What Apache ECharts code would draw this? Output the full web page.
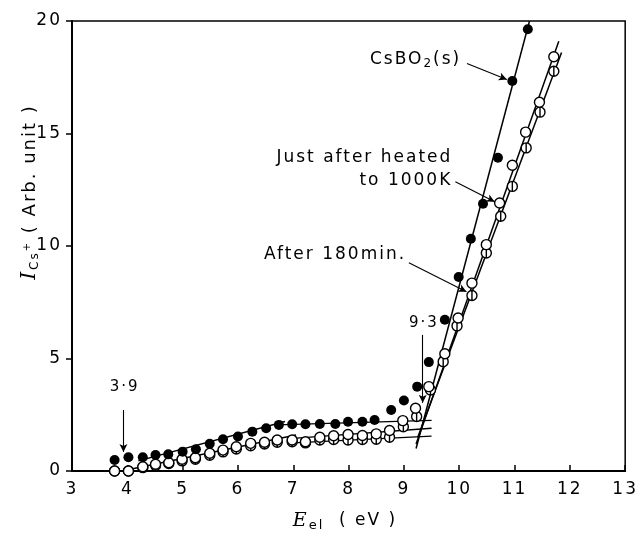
<!DOCTYPE html>
<html><head><meta charset="utf-8">
<script src="https://cdn.jsdelivr.net/npm/echarts@6/dist/echarts.min.js"></script>
<style>html,body{margin:0;padding:0;background:#fff}#c{width:641px;height:537px}</style>
</head><body><div id="c"></div>
<script>
// ---- data ----
const xTickValues = [3,4,5,6,7,8,9,10,11,12,13];
const yTickValues = [0,5,10,15,20];

// CsBO2(s) : filled circles
const csE = [3.77,4.02,4.28,4.51,4.74,5.00,5.24,5.49,5.73,6.00,6.26,6.51,6.74,6.98,7.22,7.48,7.76,7.99,8.25,8.47,8.77,9.00,9.24,9.45,9.74,9.99,10.21,10.43,10.70,10.96,11.24];
const csI = [0.49,0.61,0.61,0.71,0.74,0.86,0.97,1.21,1.41,1.53,1.75,1.90,2.05,2.08,2.08,2.09,2.09,2.19,2.19,2.27,2.71,3.13,3.75,4.84,6.72,8.62,10.32,11.88,13.92,17.33,19.63];

// Just after heated to 1000K : open circles
const opE = [3.77,4.02,4.28,4.51,4.75,4.99,5.23,5.49,5.73,5.97,6.23,6.48,6.71,6.98,7.22,7.48,7.73,7.99,8.25,8.50,8.74,8.98,9.21,9.45,9.74,9.98,10.23,10.49,10.73,10.96,11.20,11.45,11.71];
const opI = [0.00,0.00,0.19,0.30,0.37,0.52,0.59,0.79,0.93,1.08,1.23,1.28,1.38,1.38,1.30,1.50,1.57,1.62,1.58,1.65,1.80,2.24,2.79,3.75,5.21,6.80,8.35,10.06,11.91,13.59,15.06,16.39,18.41];

// After 180 min : circles with a vertical bar
const phE = [3.77,4.02,4.28,4.51,4.75,4.99,5.23,5.49,5.73,5.97,6.23,6.48,6.71,6.98,7.22,7.48,7.73,7.99,8.25,8.50,8.74,8.99,9.23,9.48,9.71,9.96,10.23,10.49,10.75,10.96,11.21,11.46,11.71];
const phI = [0.00,0.00,0.15,0.25,0.33,0.45,0.52,0.70,0.85,0.98,1.12,1.20,1.28,1.30,1.25,1.38,1.40,1.38,1.40,1.41,1.50,1.97,2.42,3.60,4.86,6.45,7.80,9.69,11.32,12.65,14.36,15.95,17.77];

// fitted straight lines (end points, [E, I])
const csLow  = [[4.20,0.45],[6.85,2.20]];
const csFlat = [[6.70,2.05],[9.50,2.25]];
const csRise = [[9.22,1.00],[11.27,20.0]];
const opLow  = [[3.90,0.00],[7.05,1.60]];
const opFlat = [[7.00,1.45],[9.50,1.90]];
const opRise = [[9.22,1.20],[11.80,19.1]];
const phFlat = [[7.00,1.25],[9.50,1.55]];
const phRise = [[9.25,1.50],[11.85,18.6]];

// annotation arrows ([from],[to]) and label anchors
const arrows = [
  [[3.93,2.71],[3.93,0.85]],
  [[9.34,6.05],[9.34,3.03]],
  [[10.14,18.11],[10.86,17.40]],
  [[9.93,12.86],[10.64,11.97]],
  [[9.09,9.26],[10.13,7.97]]
];
const labels = [
  {t:'3·9', at:[3.95,3.74], align:'center', size:15},
  {t:'9·3', at:[9.36,6.59], align:'center', size:15},
  {t:'{n|CsBO}{s|2}{n|(s)}', at:[9.21,18.29], align:'center', size:17},
  {t:'Just after heated', at:[9.875,13.93], align:'right', size:17},
  {t:'to 1000K', at:[9.875,12.90], align:'right', size:17},
  {t:'After 180min.', at:[9.04,9.61], align:'right', size:17}
];

// wide letter spacing like the original lettering
(function(){
  const P = CanvasRenderingContext2D.prototype;
  const mt = P.measureText, ft = P.fillText;
  P.measureText = function(t){ try{this.letterSpacing='2px';}catch(e){} return mt.call(this,t); };
  P.fillText = function(t,x,y,w){ try{this.letterSpacing='2px';}catch(e){} return w===undefined ? ft.call(this,t,x,y) : ft.call(this,t,x,y,w); };
})();

const FONT = 'DejaVu Sans';
const zip = (a,b) => a.map((v,i)=>[v,b[i]]);
const lineSeries = (d) => ({type:'line', data:d, symbol:'none', silent:true, z:1,
  lineStyle:{color:'#000', width:1.5, opacity:1}, animation:false});

const chart = echarts.init(document.getElementById('c'), null, {renderer:'canvas'});
const opt = {
  animation:false,
  backgroundColor:'#fff',
  grid:{left:72, right:9, top:21, bottom:66, show:true, borderColor:'#000', borderWidth:1.5, backgroundColor:'transparent'},
  xAxis:{type:'value', min:3, max:13, interval:1,
    axisLine:{lineStyle:{color:'#000', width:2}},
    axisTick:{inside:true, length:6, lineStyle:{color:'#000', width:1.5}},
    axisLabel:{color:'#000', fontSize:17, fontFamily:FONT, margin:9,
      formatter:v=> xTickValues.includes(v) ? String(v) : ''},
    splitLine:{show:false}},
  yAxis:{type:'value', min:0, max:20, interval:5,
    axisLine:{show:true, lineStyle:{color:'#000', width:2}},
    axisTick:{show:true, inside:false, length:6, lineStyle:{color:'#000', width:1.5}},
    axisLabel:{color:'#000', fontSize:17, fontFamily:FONT, margin:10,
      formatter:v=> yTickValues.includes(v) ? String(v) : ''},
    splitLine:{show:false}},
  series:[
    lineSeries(csLow), lineSeries(csFlat), lineSeries(csRise),
    lineSeries(opLow), lineSeries(opFlat), lineSeries(opRise),
    lineSeries(phFlat), lineSeries(phRise),
    {type:'scatter', name:'After 180min.', data:zip(phE,phI), z:3,
      symbol:'path://M50,0A50,50 0 1 1 49.99,0ZM50,0L50,100', symbolSize:10,
      itemStyle:{color:'#fff', borderColor:'#000', borderWidth:1.4, opacity:1}},
    {type:'scatter', name:'Just after heated to 1000K', data:zip(opE,opI), z:4,
      symbol:'circle', symbolSize:10,
      itemStyle:{color:'#fff', borderColor:'#000', borderWidth:1.4, opacity:1}},
    {type:'scatter', name:'CsBO2(s)', data:zip(csE,csI), z:5,
      symbol:'circle', symbolSize:10, itemStyle:{color:'#000', opacity:1},
      markLine:{silent:true, symbol:['none','arrow'], symbolSize:[6,8], animation:false,
        label:{show:false}, lineStyle:{color:'#000', width:1.1, type:'solid', opacity:1},
        data: arrows.map(a=>[{coord:a[0]},{coord:a[1]}])}}
  ]
};
chart.setOption(opt);

const g = labels.map(l=>{
  const p = chart.convertToPixel({gridIndex:0}, l.at);
  return {type:'text', x:p[0], y:p[1], z:10, style:{
    text:l.t, fill:'#000', fontSize:l.size, fontFamily:FONT,
    align:l.align, verticalAlign:'middle',
    rich:{n:{fontSize:l.size, fontFamily:FONT, fill:'#000'}, s:{fontSize:12, fontFamily:FONT, fill:'#000', padding:[9,0,0,0]}}}};
});
// axis titles
g.push({type:'text', x:30, y:192, rotation:Math.PI/2, z:10, style:{
  text:'{i|I}{sub|Cs}{sup|+}{n| ( Arb. unit )}', align:'center', verticalAlign:'middle',
  rich:{i:{fontSize:20, fontStyle:'italic', fontFamily:'DejaVu Serif', fill:'#000'},
        sub:{fontSize:12, fontFamily:FONT, fill:'#000', padding:[9,0,0,0]},
        sup:{fontSize:10, fontFamily:FONT, fill:'#000', padding:[0,0,6,0]},
        n:{fontSize:18, fontFamily:FONT, fill:'#000'}}}});
g.push({type:'text', x:345, y:521, z:10, style:{
  text:'{i|E}{sub|el}{n|  ( eV )}', align:'center', verticalAlign:'middle',
  rich:{i:{fontSize:19, fontStyle:'italic', fontFamily:'DejaVu Serif', fill:'#000'},
        sub:{fontSize:13, fontFamily:FONT, fill:'#000', padding:[9,0,0,0]},
        n:{fontSize:17, fontFamily:FONT, fill:'#000'}}}});
chart.setOption({graphic:g});
</script>
</body></html>
